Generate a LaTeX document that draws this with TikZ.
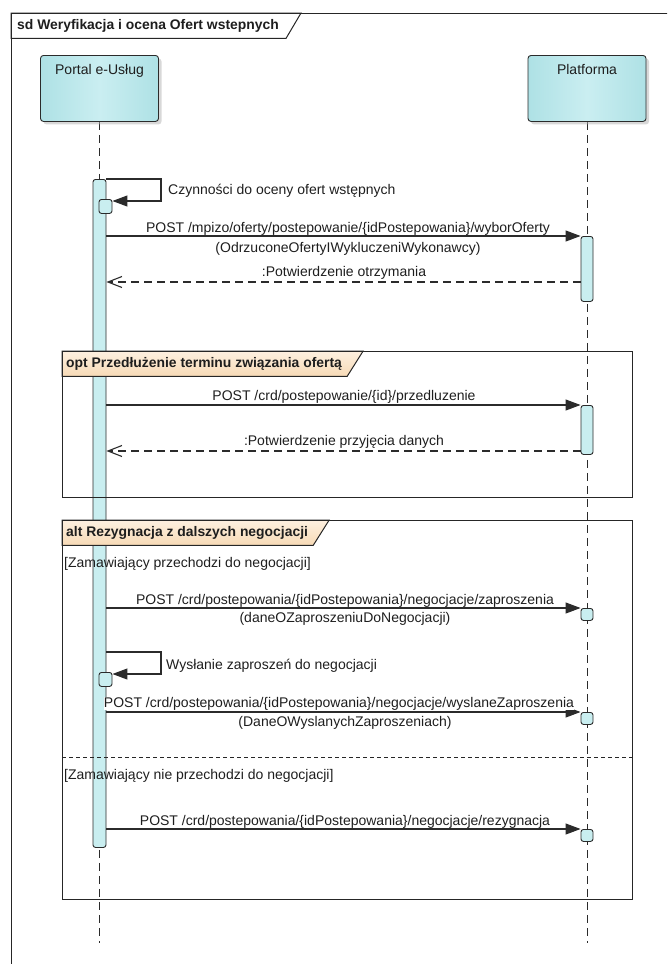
\documentclass[tikz,border=0pt]{standalone}
\usepackage{fontspec}
\setmainfont{Liberation Sans}
\usetikzlibrary{arrows.meta,shadows}
\definecolor{EAText}{HTML}{1E1E1E}
\definecolor{EALine}{HTML}{2B2B2B}
\definecolor{LifeCyan}{HTML}{AEE1E5}
\definecolor{LifeCyanLight}{HTML}{CAEEF1}
\definecolor{BarCyan}{HTML}{C9EEF0}
\definecolor{TabTop}{HTML}{FDF0E0}
\definecolor{TabBottom}{HTML}{F7DAB6}
\pgfdeclarelayer{lanes}
\pgfdeclarelayer{tabs}
\pgfsetlayers{lanes,tabs,main}

\begin{document}
\begin{tikzpicture}[x=1pt,y=-1pt,
    font=\fontsize{14}{16}\selectfont, text=EAText,
    lifebox/.style={draw=EALine,rounded corners=3pt,line width=0.9pt,
                    left color=LifeCyan,right color=LifeCyan,middle color=LifeCyanLight,
                    minimum width=118pt,inner sep=5pt,text height=14pt,text depth=42pt,anchor=north,
                    drop shadow={shadow xshift=3pt,shadow yshift=-3pt,fill=black!30,opacity=0.5}},
    lane/.style={EALine,line width=0.9pt,dash pattern=on 8pt off 5pt},
    actbar/.style={draw=EALine,fill=BarCyan,rounded corners=2.5pt,line width=0.9pt,
                   minimum width=12pt,inner sep=0pt,anchor=north},
    fragment/.style={draw=black!85,line width=1.2pt,inner sep=0pt,anchor=north west},
    tabtext/.style={font=\fontsize{13.9}{16}\selectfont\bfseries,anchor=north west,
                    minimum height=25pt,inner xsep=4pt,inner ysep=0pt},
    tab/.style={draw=black!85,line width=1pt,top color=TabTop,bottom color=TabBottom},
    sdtab/.style={draw=black!85,line width=1pt,fill=white},
    separator/.style={black!85,line width=1pt,dash pattern=on 4pt off 3pt},
    msg/.style={-{Triangle[length=15pt,width=11pt]},line width=1.1pt,EALine},
    reply/.style={-{Straight Barb[length=14pt,width=11pt]},line width=1.1pt,EALine,
                  dash pattern=on 8pt off 5pt},
    lbl/.style={anchor=base,inner sep=0pt},
    guard/.style={anchor=base west,inner sep=0pt}]
  \useasboundingbox (0,0) rectangle (667,964);
  \clip (0,0) rectangle (667,964);

  % frame of the whole diagram
  \node[fragment,minimum width=700pt,minimum height=1000pt] (sdF) at (11,13) {};
  \node[tabtext,inner xsep=6pt] (sdTab) at (sdF.north west) {sd Weryfikacja i ocena Ofert wstepnych};
  \begin{pgfonlayer}{tabs}
    \draw[sdtab] (sdTab.north west) -- ([xshift=16pt]sdTab.north east)
      -- ([xshift=1pt]sdTab.south east) -- (sdTab.south west) -- cycle;
  \end{pgfonlayer}

  % lifelines
  \node[lifebox] (portal) at (99.5,55) {Portal e-Usług};
  \node[lifebox] (platforma) at (587,55) {Platforma};
  \coordinate (endP) at (99.5,943);
  \coordinate (endA) at (587,943);
  \begin{pgfonlayer}{lanes}
    \draw[lane] (portal.south) -- (endP);
    \draw[lane] (platforma.south) -- (endA);
    \node[actbar,minimum width=13pt,minimum height=668pt] (barP) at (99.5,179) {};
  \end{pgfonlayer}

  % combined fragments
  \node[fragment,minimum width=570pt,minimum height=146pt] (optF) at (62,351) {};
  \node[tabtext] (optTab) at (optF.north west) {opt Przedłużenie terminu związania ofertą};
  \node[fragment,minimum width=570pt,minimum height=379pt] (altF) at (62,520) {};
  \node[tabtext] (altTab) at (altF.north west) {alt Rezygnacja z dalszych negocjacji};
  \begin{pgfonlayer}{tabs}
    \draw[tab] (optTab.north west) -- ([xshift=17pt]optTab.north east)
      -- ([xshift=1pt]optTab.south east) -- (optTab.south west) -- cycle;
    \draw[tab] (altTab.north west) -- ([xshift=17pt]altTab.north east)
      -- ([xshift=1pt]altTab.south east) -- (altTab.south west) -- cycle;
  \end{pgfonlayer}
  \coordinate (sepY) at (0,757);
  \draw[separator] (altF.west |- sepY) -- (altF.east |- sepY);
  \node[guard] (g1) at (64,567) {[Zamawiający przechodzi do negocjacji]};
  \node[guard] (g2) at (64,779) {[Zamawiający nie przechodzi do negocjacji]};

  % activations
  \node[actbar,minimum height=65pt] (barA) at (587,236) {};
  \node[actbar,minimum height=49pt] (barB) at (587,405) {};
  \node[actbar,minimum height=12pt] (dotC) at (587,608) {};
  \node[actbar,minimum height=12pt] (dotD) at (587,712) {};
  \node[actbar,minimum height=12pt] (dotE) at (587,829) {};
  \node[actbar,minimum width=13pt,minimum height=14pt] (selfA) at (105.5,199) {};
  \node[actbar,minimum width=13pt,minimum height=14pt] (selfB) at (105.5,672) {};

  % messages
  \coordinate (r1) at (0,282);
  \coordinate (r2) at (0,451);
  \coordinate (loopB) at (0,652);
  \draw[msg] (barP.north east) -- ++(54.5,0) |- ([yshift=-2pt]selfA.north east);
  \draw[msg] (barP.east |- barA.north) -- (barA.north west);
  \draw[reply] (barA.west |- r1) -- (barP.east |- r1);
  \draw[msg] (barP.east |- barB.north) -- (barB.north west);
  \draw[reply] (barB.west |- r2) -- (barP.east |- r2);
  \draw[msg] (barP.east |- dotC.north) -- (dotC.north west);
  \draw[msg] (barP.east |- loopB) -- ++(54.5,0) |- ([yshift=-2pt]selfB.north east);
  \draw[msg] (barP.east |- dotD.north) -- (dotD.north west);
  \draw[msg] (barP.east |- dotE.north) -- (dotE.north west);

  % message texts
  \node[guard] (selfAtxt) at (168,194) {Czynności do oceny ofert wstępnych};
  \node[lbl] (m1a) at (348,232) {POST /mpizo/oferty/postepowanie/\{idPostepowania\}/wyborOferty};
  \node[lbl] (m1b) at (348,252) {(OdrzuconeOfertyIWykluczeniWykonawcy)};
  \node[lbl] (r1a) at (344,276) {:Potwierdzenie otrzymania};
  \node[lbl] (m2a) at (344,400) {POST /crd/postepowanie/\{id\}/przedluzenie};
  \node[lbl] (r2a) at (344,445) {:Potwierdzenie przyjęcia danych};
  \node[lbl] (m3a) at (345,604) {POST /crd/postepowania/\{idPostepowania\}/negocjacje/zaproszenia};
  \node[lbl] (m3b) at (345,622) {(daneOZaproszeniuDoNegocjacji)};
  \node[guard] (selfBtxt) at (166,669) {Wysłanie zaproszeń do negocjacji};
  \node[lbl,fill=white] (m4a) at (339,707) {POST /crd/postepowania/\{idPostepowania\}/negocjacje/wyslaneZaproszenia};
  \node[lbl] (m4b) at (345,726) {(DaneOWyslanychZaproszeniach)};
  \node[lbl] (m5a) at (345,825) {POST /crd/postepowania/\{idPostepowania\}/negocjacje/rezygnacja};
\end{tikzpicture}
\end{document}
